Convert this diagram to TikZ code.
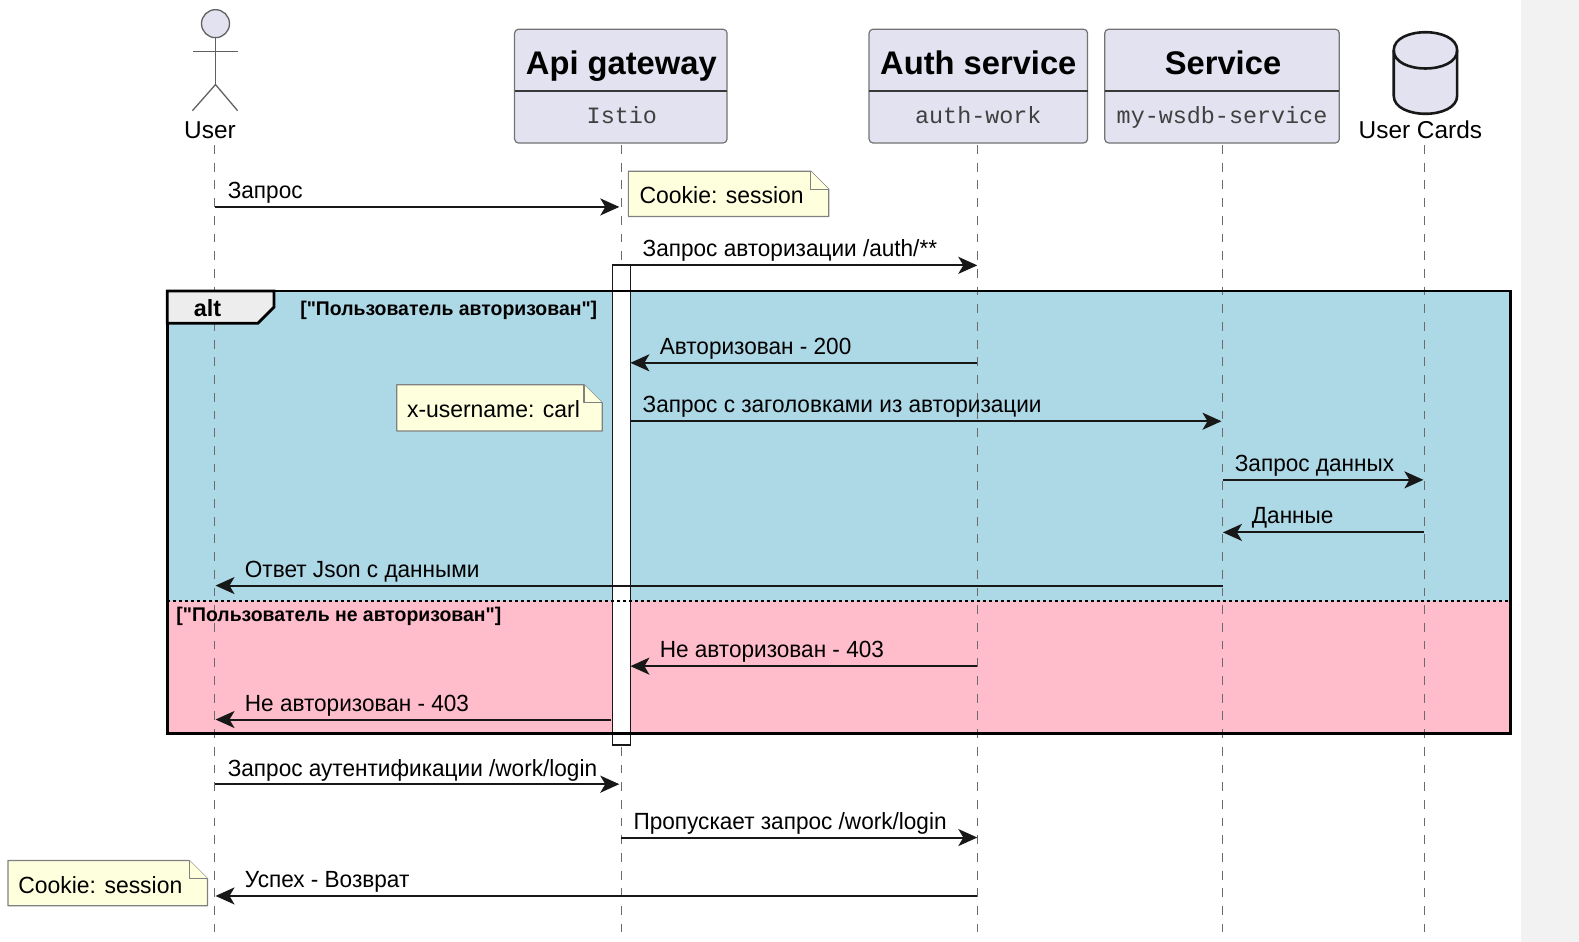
\documentclass[tikz,border=0pt]{standalone}
\usepackage{fontspec}
\setmainfont{Liberation Sans}
\setmonofont{Liberation Mono}
\newfontfamily\msgfont{Liberation Sans}[FakeStretch=0.965]
\newfontfamily\notefont{Liberation Sans}[FakeStretch=0.98]
\newfontfamily\guardfont{Liberation Sans}[FakeStretch=0.98]
\usetikzlibrary{arrows.meta}
\definecolor{partfill}{HTML}{E2E2F0}
\definecolor{notefill}{HTML}{FEFFDD}
\definecolor{altblue}{HTML}{ADD8E6}
\definecolor{altpink}{HTML}{FFBDCB}
\definecolor{inkline}{HTML}{181818}
\tikzset{
  lifeline/.style = {draw=black!58, line width=1.1pt, dash pattern=on 8.85pt off 8.85pt},
  msgline/.style = {draw=inkline, line width=2pt,
    -{Stealth[length=19pt, width=17pt, inset=5pt]}},
  msglabel/.style = {anchor=base west, inner sep=0pt, yshift=-1.5pt, font=\fontsize{23.4}{28}\msgfont\selectfont},
  partbox/.style = {draw=black!55, line width=1.2pt, fill=partfill, rounded corners=4pt,
    minimum height=113.8pt},
  partrule/.style = {draw=black!78, line width=2pt},
  parttitle/.style = {anchor=base, inner sep=0pt, font=\fontsize{32.7}{38}\selectfont\bfseries},
  partsub/.style = {anchor=base, inner sep=0pt, text=black!75, font=\fontsize{23.4}{28}\ttfamily\selectfont},
  partlabel/.style = {anchor=base, inner sep=0pt, font=\fontsize{24.4}{28}\selectfont},
  notebox/.style = {draw=black!50, line width=1.2pt, fill=notefill, line join=round},
  notetext/.style = {anchor=base west, inner sep=0pt, yshift=-0.8pt, font=\fontsize{23.4}{28}\notefont\selectfont},
  guardlabel/.style = {anchor=base west, inner sep=0pt, font=\fontsize{19.8}{24}\guardfont\bfseries\selectfont},
  actorline/.style = {draw=black!62, line width=1.3pt},
  dbline/.style = {draw=inkline, line width=2.6pt, fill=partfill}
}
\begin{document}
\begin{tikzpicture}[x=1.007pt, y=-1.007pt]
\useasboundingbox (0,0) rectangle (1568,935.4);
\fill[white] (0,0) rectangle (1568,935.4);
\fill[black!5] (1510,0) rectangle (1568,935.4);

% alt sections
\fill[altblue] (166,289) rectangle (1500,597);
\fill[altpink] (166,597) rectangle (1500,728);

% lifelines
\coordinate (userTop) at (213,144);
\coordinate (userEnd) at (213,925);
\coordinate (apiTop) at (617.4,144);
\coordinate (apiEnd) at (617.4,925);
\coordinate (authTop) at (970.5,144);
\coordinate (authEnd) at (970.5,925);
\coordinate (serviceTop) at (1214.4,144);
\coordinate (serviceEnd) at (1214.4,925);
\coordinate (cardsTop) at (1414.5,144);
\coordinate (cardsEnd) at (1414.5,925);
\draw[lifeline] (userTop) -- (userEnd);
\draw[lifeline] (apiTop) -- (apiEnd);
\draw[lifeline] (authTop) -- (authEnd);
\draw[lifeline] (serviceTop) -- (serviceEnd);
\draw[lifeline] (cardsTop) -- (cardsEnd);

% activation
\node (apiActive) [draw=inkline, line width=1.5pt, fill=white, minimum width=18pt,
  minimum height=480.3pt, inner sep=0pt] at (617,501.5) {};

% frame
\draw[black, line width=2pt, dash pattern=on 3pt off 3pt] (166,597) -- (1500,597);
\draw[black, line width=2.8pt] (166,289) rectangle (1500,728);
\draw[black, line width=2.8pt, fill=black!7] (166,289) -- (272,289) -- (272,305) -- (256,321) -- (166,321) -- cycle;
\node (altTag) [anchor=base, inner sep=0pt, font=\fontsize{23.4}{28}\selectfont\bfseries] at (206,314) {alt};
\node (guardYes) [guardlabel] at (298,313) {["Пользователь авторизован"]};
\node (guardNo) [guardlabel] at (175,617) {["Пользователь не авторизован"]};

% participants
\node (userHead) [circle, draw=black!62, line width=1.3pt, fill=partfill, minimum size=28pt, inner sep=0pt] at (214,23.5) {};
\coordinate (userNeck) at (214,51);
\coordinate (userArmL) at (192,51);
\coordinate (userArmR) at (236,51);
\coordinate (userHip) at (214,84);
\coordinate (userLegL) at (191,110);
\coordinate (userLegR) at (236,110);
\draw[actorline] (userHead) -- (userHip);
\draw[actorline] (userArmL) -- (userArmR);
\draw[actorline] (userLegL) -- (userHip) -- (userLegR);
\node (userName) [partlabel] at (208.5,138) {User};

\node (apiBox) [partbox, minimum width=212.5pt] at (616.5,85.5) {};
\draw[partrule] (511,90) -- (722,90);
\node (apiTitle) [parttitle] at (617,74) {Api gateway};
\node (apiSub) [partsub] at (617.5,122.5) {Istio};

\node (authBox) [partbox, minimum width=218.5pt] at (971.5,85.5) {};
\draw[partrule] (863,90) -- (1080,90);
\node (authTitle) [parttitle] at (971.5,74) {Auth service};
\node (authSub) [partsub] at (971.5,122.5) {auth-work};

\node (serviceBox) [partbox, minimum width=234.6pt] at (1213.5,85.5) {};
\draw[partrule] (1097,90) -- (1330,90);
\node (serviceTitle) [parttitle] at (1214.5,74) {Service};
\node (serviceSub) [partsub] at (1213.5,122.5) {my-wsdb-service};

\draw[dbline] (1384,50) .. controls (1384,26) and (1447,26) .. (1447,50) -- (1447,95)
  .. controls (1447,119) and (1384,119) .. (1384,95) -- cycle;
\draw[dbline, fill=none] (1384,50) .. controls (1384,74) and (1447,74) .. (1447,50);
\node (cardsName) [partlabel] at (1410.5,138) {User Cards};

% notes
\draw[notebox] (624,170) -- (805,170) -- (823,188) -- (823,215) -- (624,215) -- cycle;
\draw[notebox] (805,170) -- (805,188) -- (823,188);
\node (noteIn) [notetext] at (635,201.5) {Cookie: session};
\draw[notebox] (394,382) -- (580,382) -- (598,400) -- (598,428) -- (394,428) -- cycle;
\draw[notebox] (580,382) -- (580,400) -- (598,400);
\node (noteUser) [notetext] at (404,414) {x-username: carl};
\draw[notebox] (8,854.5) -- (188,854.5) -- (206,872.5) -- (206,899.5) -- (8,899.5) -- cycle;
\draw[notebox] (188,854.5) -- (188,872.5) -- (206,872.5);
\node (noteOut) [notetext] at (18,886.5) {Cookie: session};

% messages
\coordinate (m1a) at (213.5,205.5);
\coordinate (m1b) at (615,205.5);
\draw[msgline] (m1a) -- (m1b);
\node (m1) [msglabel] at (226,195.5) {Запрос};
\coordinate (m2a) at (617,263.5);
\coordinate (m2b) at (970.5,263.5);
\draw[msgline] (m2a) -- (m2b);
\node (m2) [msglabel] at (638,253.5) {Запрос авторизации /auth/**};
\coordinate (m3a) at (970.5,360.3);
\coordinate (m3b) at (626,360.3);
\draw[msgline] (m3a) -- (m3b);
\node (m3) [msglabel] at (655,350.5) {Авторизован - 200};
\coordinate (m4a) at (626,418.3);
\coordinate (m4b) at (1213,418.3);
\draw[msgline] (m4a) -- (m4b);
\node (m4) [msglabel] at (638,408.5) {Запрос с заголовками из авторизации};
\coordinate (m5a) at (1214.4,476.5);
\coordinate (m5b) at (1413.5,476.5);
\draw[msgline] (m5a) -- (m5b);
\node (m5) [msglabel] at (1226,466.5) {Запрос данных};
\coordinate (m6a) at (1414.5,528.7);
\coordinate (m6b) at (1214.4,528.7);
\draw[msgline] (m6a) -- (m6b);
\node (m6) [msglabel] at (1243,518.8) {Данные};
\coordinate (m7a) at (1214.4,581.5);
\coordinate (m7b) at (214,581.5);
\draw[msgline] (m7a) -- (m7b);
\node (m7) [msglabel] at (243,571.5) {Ответ Json с данными};
\coordinate (m8a) at (970.5,661.5);
\coordinate (m8b) at (626,661.5);
\draw[msgline] (m8a) -- (m8b);
\node (m8) [msglabel] at (655,651.5) {Не авторизован - 403};
\coordinate (m9a) at (607,714.5);
\coordinate (m9b) at (214,714.5);
\draw[msgline] (m9a) -- (m9b);
\node (m9) [msglabel] at (243,704.8) {Не авторизован - 403};
\coordinate (m10a) at (213.5,778.7);
\coordinate (m10b) at (615,778.7);
\draw[msgline] (m10a) -- (m10b);
\node (m10) [msglabel] at (226,769.8) {Запрос аутентификации /work/login};
\coordinate (m11a) at (617,831.7);
\coordinate (m11b) at (970.5,831.7);
\draw[msgline] (m11a) -- (m11b);
\node (m11) [msglabel] at (629,822) {Пропускает запрос /work/login};
\coordinate (m12a) at (970.5,889.7);
\coordinate (m12b) at (214,889.7);
\draw[msgline] (m12a) -- (m12b);
\node (m12) [msglabel] at (243,880) {Успех - Возврат};
\end{tikzpicture}
\end{document}
